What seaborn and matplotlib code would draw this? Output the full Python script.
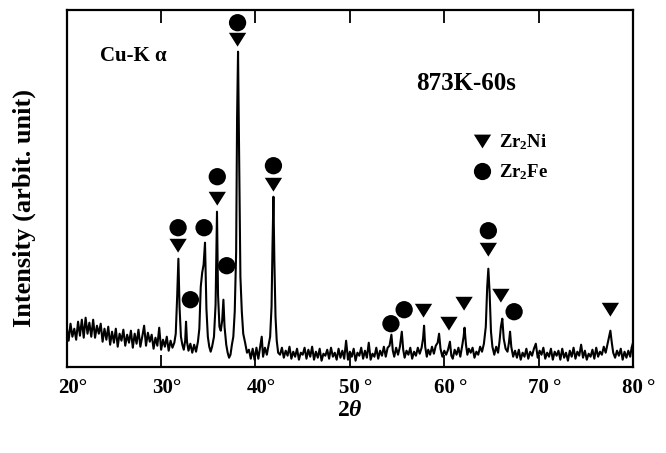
import matplotlib
matplotlib.use("Agg")
import matplotlib.pyplot as plt
import matplotlib.transforms as mtransforms
from matplotlib.lines import Line2D
import seaborn as sns
import pandas as pd

# ---------------- data (intensity in arbitrary units) ----------------
two_theta = [
    # background 20-31.2
    20.0, 20.2, 20.4, 20.6, 20.8, 21.0, 21.2, 21.4, 21.6, 21.8,
    22.0, 22.2, 22.4, 22.6, 22.8, 23.0, 23.2, 23.4, 23.6, 23.8,
    24.0, 24.2, 24.4, 24.6, 24.8, 25.0, 25.2, 25.4, 25.6, 25.8,
    26.0, 26.2, 26.4, 26.6, 26.8, 27.0, 27.2, 27.4, 27.6, 27.8,
    28.0, 28.2, 28.4, 28.6, 28.8, 29.0, 29.2, 29.4, 29.6, 29.8,
    30.0, 30.2, 30.4, 30.6, 30.8, 31.0, 31.2,
    # main peak group 31.4-42.4
    31.4, 31.55, 31.7, 31.83, 31.95, 32.1, 32.25, 32.4, 32.55, 32.64,
    32.74, 32.9, 33.1, 33.3, 33.5, 33.7, 33.9, 34.05, 34.2, 34.35,
    34.5, 34.65, 34.8, 34.95, 35.1, 35.25, 35.4, 35.6, 35.77, 35.92,
    36.03, 36.18, 36.32, 36.47, 36.6, 36.72, 36.9, 37.05, 37.2, 37.35,
    37.5, 37.65, 37.8, 37.95, 38.05, 38.15, 38.27, 38.4, 38.55, 38.7,
    38.9, 39.1, 39.3, 39.5, 39.7, 39.9, 40.1, 40.3, 40.5, 40.66,
    40.8, 41.0, 41.2, 41.4, 41.55, 41.7, 41.8, 41.9, 42.0, 42.12,
    42.25, 42.4,
    # background 42.6-53.8
    42.6, 42.8, 43.0, 43.2, 43.4, 43.6, 43.8, 44.0, 44.2, 44.4,
    44.6, 44.8, 45.0, 45.2, 45.4, 45.6, 45.8, 46.0, 46.2, 46.4,
    46.6, 46.8, 47.0, 47.2, 47.4, 47.6, 47.8, 48.0, 48.2, 48.4,
    48.6, 48.8, 49.0, 49.2, 49.4, 49.6, 49.8, 50.0, 50.2, 50.4,
    50.6, 50.8, 51.0, 51.2, 51.4, 51.6, 51.8, 52.0, 52.2, 52.4,
    52.6, 52.8, 53.0, 53.2, 53.4, 53.6, 53.8,
    # high-angle peaks 54-80
    54.0, 54.2, 54.4, 54.55, 54.7, 54.9, 55.1, 55.3, 55.5, 55.65,
    55.8, 56.0, 56.2, 56.4, 56.6, 56.8, 57.0, 57.2, 57.4, 57.6,
    57.75, 57.86, 57.98, 58.15, 58.3, 58.5, 58.7, 58.9, 59.1, 59.3,
    59.45, 59.6, 59.8, 60.0, 60.2, 60.4, 60.6, 60.75, 60.9, 61.1,
    61.3, 61.5, 61.7, 61.9, 62.05, 62.15, 62.3, 62.45, 62.6, 62.8,
    63.0, 63.2, 63.4, 63.6, 63.8, 64.0, 64.2, 64.4, 64.55, 64.67,
    64.8, 64.95, 65.1, 65.3, 65.5, 65.7, 65.85, 66.0, 66.15, 66.3,
    66.5, 66.7, 66.85, 66.97, 67.1, 67.3, 67.5, 67.7, 67.9, 68.1,
    68.3, 68.5, 68.7, 68.9, 69.1, 69.3, 69.5, 69.7, 69.9, 70.1,
    70.3, 70.5, 70.7, 70.9, 71.1, 71.3, 71.5, 71.7, 71.9, 72.1,
    72.3, 72.5, 72.7, 72.9, 73.1, 73.3, 73.5, 73.7, 73.9, 74.1,
    74.3, 74.5, 74.7, 74.9, 75.1, 75.3, 75.5, 75.7, 75.9, 76.1,
    76.3, 76.5, 76.7, 76.9, 77.1, 77.3, 77.45, 77.6, 77.75, 77.9,
    78.1, 78.3, 78.5, 78.7, 78.9, 79.1, 79.3, 79.5, 79.7, 79.85,
    80.0,
]
intensity = [
    40, 26, 43, 30, 38, 27, 45, 31, 47, 29,
    49, 33, 44, 30, 47, 29, 41, 33, 43, 25,
    38, 27, 40, 22, 35, 24, 38, 20, 33, 26,
    37, 21, 32, 24, 36, 19, 33, 23, 37, 20,
    30, 41, 21, 34, 25, 32, 18, 29, 21, 39,
    17, 27, 20, 30, 16, 26, 19,
    24, 33, 70, 108, 60, 30, 22, 17, 26, 45,
    25, 16, 23, 14, 22, 15, 25, 38, 80, 94,
    102, 124, 58, 30, 20, 15, 20, 30, 62, 155,
    72, 40, 36, 46, 67, 40, 22, 14, 9, 12,
    22, 30, 55, 115, 250, 315, 210, 90, 55, 33,
    24, 14, 17, 8, 18, 7, 19, 8, 20, 30,
    10, 19, 12, 22, 30, 60, 120, 170, 105, 50,
    26, 14,
    12, 19, 9, 16, 11, 20, 8, 15, 10, 18,
    7, 14, 12, 19, 8, 17, 10, 20, 7, 15,
    9, 18, 6, 13, 11, 17, 8, 19, 10, 14,
    7, 18, 9, 16, 8, 26, 7, 15, 10, 18,
    6, 14, 11, 19, 8, 16, 9, 24, 7, 13,
    10, 19, 8, 16, 11, 20, 10,
    19, 21, 32, 16, 10, 19, 12, 20, 35, 17,
    9, 16, 12, 19, 8, 15, 11, 19, 13, 19,
    28, 41, 20, 10, 17, 12, 20, 13, 21, 24,
    33, 18, 10, 16, 12, 17, 25, 11, 8, 17,
    12, 19, 10, 21, 30, 39, 22, 12, 18, 14,
    19, 9, 15, 12, 20, 15, 23, 40, 80, 98,
    75, 35, 20, 12, 20, 14, 25, 40, 48, 28,
    18, 15, 24, 35, 20, 10, 16, 9, 17, 7,
    14, 10, 18, 8, 15, 11, 18, 23, 9, 16,
    12, 19, 8, 14, 10, 18, 7, 15, 11, 16,
    7, 18, 9, 14, 6, 16, 10, 19, 8, 15,
    11, 22, 9, 16, 7, 13, 10, 17, 8, 19,
    10, 15, 12, 20, 14, 23, 30, 36, 24, 14,
    9, 16, 11, 18, 7, 15, 9, 16, 10, 19,
    24,
]
assert len(two_theta) == len(intensity)

# phase markers placed above the peaks
zr2ni_theta = [31.8, 35.95, 38.1, 41.9, 57.8, 60.5, 62.1, 64.67, 66.0, 77.6]
zr2ni_height = [121, 168, 327, 182, 56, 43, 63, 117, 71, 57]
zr2fe_theta = [31.8, 33.1, 34.55, 35.95, 36.95, 38.1, 41.9, 54.35, 55.75, 64.67, 67.4]
zr2fe_height = [139, 67, 139, 190, 101, 344, 201, 43, 57, 136, 55]

phase_labels = ["Zr$_\\mathrm{2}$Ni", "Zr$_\\mathrm{2}$Fe"]
xtick_values = [20, 30, 40, 50, 60, 70, 80]
xtick_labels = ["20°", "30°", "40°", "50\u2009°", "60\u2009°", "70\u2009°", "80\u2009°"]

# ---------------- style ----------------
sns.set_style("white")
plt.rcParams["font.family"] = ["Liberation Serif", "DejaVu Serif"]
plt.rcParams["font.weight"] = "bold"
plt.rcParams["text.color"] = "black"
plt.rcParams["axes.labelcolor"] = "black"
plt.rcParams["xtick.color"] = "black"
plt.rcParams["mathtext.fontset"] = "custom"
plt.rcParams["mathtext.rm"] = "Liberation Serif:bold"
plt.rcParams["mathtext.bf"] = "Liberation Serif:bold"
plt.rcParams["mathtext.it"] = "Liberation Serif:italic:bold"

fig = plt.figure(figsize=(6.66, 4.53), dpi=100)
ax = fig.add_axes([0.1002, 0.1905, 0.8503, 0.7874])

scan = pd.DataFrame({"two_theta": two_theta, "intensity": intensity})
sns.lineplot(data=scan, x="two_theta", y="intensity", ax=ax, color="black",
             lw=1.5, estimator=None, sort=False)

tri_down = [(0, -0.8), (-1, 0.8), (1, 0.8), (0, -0.8)]
marks = pd.DataFrame({
    "two_theta": zr2ni_theta + zr2fe_theta,
    "height": zr2ni_height + zr2fe_height,
    "phase": [phase_labels[0]] * len(zr2ni_theta) + [phase_labels[1]] * len(zr2fe_theta),
})
sns.scatterplot(data=marks, x="two_theta", y="height", style="phase",
                markers={phase_labels[0]: tri_down, phase_labels[1]: "o"},
                color="black", s=155, linewidth=0, legend=False, ax=ax, zorder=3)

handles = [
    Line2D([], [], marker=tri_down, color="black", ls="none", markersize=12.4, markeredgewidth=0),
    Line2D([], [], marker="o", color="black", ls="none", markersize=12.4, markeredgewidth=0),
]
ax.legend(handles, phase_labels, loc="upper left", bbox_to_anchor=(0.7175, 0.657),
          frameon=False, borderpad=0, borderaxespad=0, handlelength=1.0,
          handletextpad=0.38, labelspacing=0.55,
          prop={"family": "Liberation Serif", "weight": "bold", "size": 13.5})

ax.text(0.0585, 0.871, "Cu-K α", transform=ax.transAxes, fontsize=15,
        fontweight="bold", ha="left", va="center")
ax.text(0.705, 0.7926, "873K-60s", transform=ax.transAxes, fontsize=18,
        fontweight="bold", ha="center", va="center")

ax.set_xlim(20, 80)
ax.set_ylim(0, 356.7)
ax.set_xticks(xtick_values)
ax.set_xticklabels(xtick_labels, fontsize=15, fontweight="bold")
ax.set_yticks([])
ax.tick_params(axis="x", direction="in", length=9, width=1.3, top=True,
               bottom=True, pad=8, colors="black")
offset = mtransforms.ScaledTranslation(6 / 100, 0, fig.dpi_scale_trans)
for lbl in ax.get_xticklabels():
    lbl.set_transform(lbl.get_transform() + offset)
for sp in ax.spines.values():
    sp.set_linewidth(1.6)
    sp.set_color("black")

ax.set_ylabel("Intensity (arbit. unit)", fontsize=19, fontweight="bold")
ax.yaxis.set_label_coords(-0.054, 0.445)
ax.set_xlabel("2$\\theta$", fontsize=17, fontweight="bold")
ax.xaxis.set_label_coords(0.5, -0.092)

fig.savefig("out.png", dpi=100, facecolor="white")
